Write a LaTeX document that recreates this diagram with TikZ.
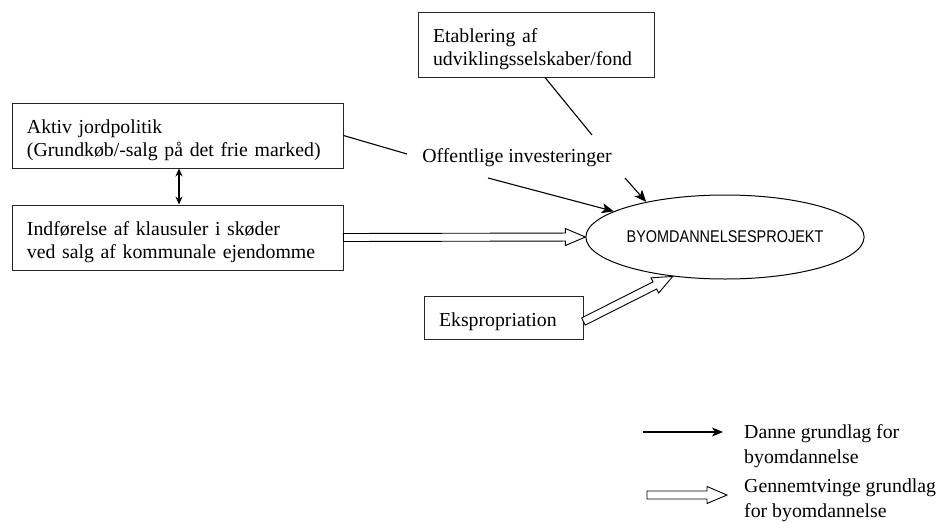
\documentclass[tikz,border=0pt]{standalone}
\usepackage{fontspec}
\setmainfont{Liberation Serif}
\newfontfamily\narrowsans[FakeStretch=0.85]{Liberation Sans}
\usetikzlibrary{calc,shapes.geometric,arrows.meta}

\tikzset{
  box/.style={draw=black!85, line width=0.9pt, rectangle, inner xsep=15pt,
    align=left, font=\fontsize{19.8}{23.5}\selectfont,
    execute at begin node={\rule{0pt}{23pt}}},
  label/.style={font=\fontsize{19.8}{24.5}\selectfont, inner sep=0pt, align=left},
  thin/.style={line width=1.1pt, -{Stealth[length=12pt,width=10pt,inset=3pt]}},
  plain/.style={line width=1.1pt},
  % broad outlined arrow between two points
  hollow/.style={draw=black, line width=0.9pt, fill=white,
    to path={
      ($(\tikztotarget)!20pt!(\tikztostart)$) coordinate (hb)
      ($(\tikztostart)!4pt!90:(\tikztotarget)$)
      -- ($(hb)!4pt!90:(\tikztotarget)$)
      -- ($(hb)!8.5pt!90:(\tikztotarget)$)
      -- (\tikztotarget)
      -- ($(hb)!8.5pt!-90:(\tikztotarget)$)
      -- ($(hb)!4pt!-90:(\tikztotarget)$)
      -- ($(\tikztostart)!4pt!-90:(\tikztotarget)$)
      -- cycle}}
}

\begin{document}
\begin{tikzpicture}[x=1pt,y=-1pt]
\useasboundingbox (0,0) rectangle (942,522);

% boxes
\node[box, text width=206pt, minimum height=65pt] (etab) at (536,44.5)
  {Etablering af\\udviklingsselskaber/fond};
\node[box, text width=301pt, minimum height=65pt] (akt) at (177.5,135.5)
  {Aktiv jordpolitik\\(Grundkøb/-salg på det frie marked)};
\node[box, text width=301pt, minimum height=65pt] (ind) at (177.5,237.5)
  {Indførelse af klausuler i skøder\\ved salg af kommunale ejendomme};
\node[box, text width=129pt, minimum height=43pt] (eks) at (503.5,317.5)
  {Ekspropriation};

% central project
\node[ellipse, draw=black, line width=1pt, minimum width=261pt, minimum height=84pt,
  inner sep=0pt, font=\narrowsans\fontsize{17}{19}\selectfont] (proj) at (725,237)
  {BYOMDANNELSESPROJEKT};

% public investment label
\node[label, anchor=base] (off) at (517,162) {Offentlige investeringer};

\coordinate (offA) at (407,154);
\coordinate (offB) at (592,135);
\coordinate (offC) at (488,178);
\coordinate (offD) at (625,178);

% thin connectors
\draw[plain] (akt.east) -- (offA);
\draw[plain] ([xshift=9pt]etab.south) -- (offB);
\draw[thin] (offC) -- (proj.167);
\draw[thin] (offD) -- (proj.156);
\draw[line width=1.1pt, {Stealth[length=8pt,width=7pt]}-{Stealth[length=8pt,width=7pt]}]
  ([xshift=1.5pt]akt.south) -- ([xshift=1.5pt]ind.north);

% broad connectors
\draw[hollow] (ind.east) to (proj.west);
\draw[hollow] ([yshift=-4pt]eks.east) to (proj.217);

% legend
\coordinate (lg1a) at (643,432);
\coordinate (lg1b) at (723,432);
\coordinate (lg2a) at (647,495);
\coordinate (lg2b) at (727,495);
\draw[line width=1.1pt, -{Stealth[length=11pt,width=9pt,inset=3pt]}] (lg1a) -- (lg1b);
\draw[hollow] (lg2a) to (lg2b);
\node[label, anchor=base west] (lgt1) at (744,463) {Danne grundlag for\\byomdannelse};
\node[label, anchor=base west] (lgt2) at (744,517) {Gennemtvinge grundlag\\for byomdannelse};
\end{tikzpicture}
\end{document}
